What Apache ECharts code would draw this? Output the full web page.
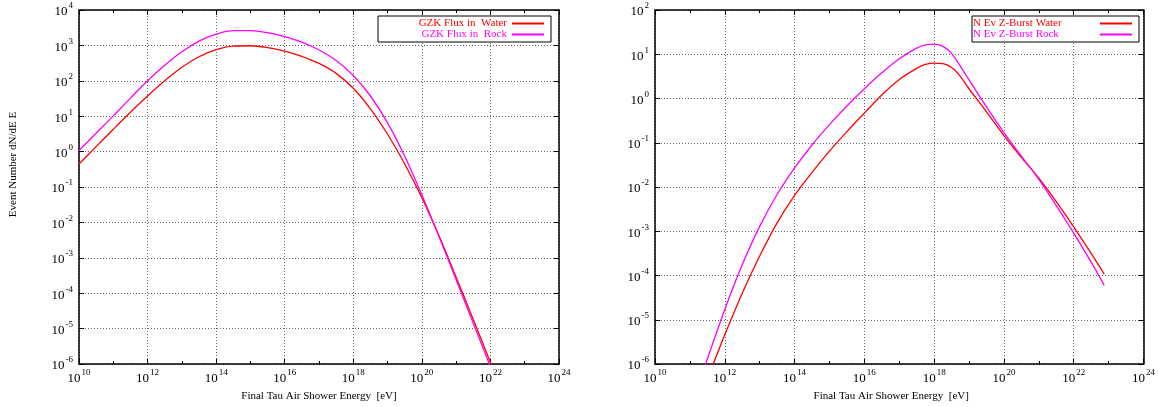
<!DOCTYPE html>
<html><head><meta charset="utf-8">
<script src="https://cdn.jsdelivr.net/npm/echarts@6/dist/echarts.min.js"></script>
<style>html,body{margin:0;padding:0;background:#fff}#c{width:1158px;height:407px}</style>
</head><body><div id="c"></div>
<script>
// ---- data ----
const leftEnergy = [1e10, 3.16e10, 1e11, 3.16e11, 1e12, 3.16e12, 1e13, 3.16e13, 1e14, 3.16e14, 1e15, 3.16e15, 1e16, 3.16e16, 1e17, 3.16e17, 1e18, 3.16e18, 1e19, 3.16e19, 1e20, 3.16e20, 1e21, 3.16e21, 1e22, 3.16e22];
const gzkWater = [0.447, 1.38, 4.27, 12.9, 37.2, 100, 240, 479, 759, 955, 977, 871, 692, 490, 309, 162, 61.7, 16.2, 3.09, 0.447, 0.0501, 4.17e-3, 2.82e-4, 1.82e-5, 1.1e-6, 6.3e-8];
const gzkRock = [1.07, 3.31, 10.2, 32.4, 100, 275, 661, 1318, 2089, 2630, 2630, 2291, 1778, 1230, 741, 372, 141, 37.2, 6.46, 0.741, 0.0603, 3.98e-3, 2.4e-4, 1.41e-5, 8.3e-7, 4.5e-8];

const rightEnergyRock = [2.51e11, 3.16e11, 1e12, 3.16e12, 1e13, 3.16e13, 1e14, 3.16e14, 1e15, 3.16e15, 1e16, 3.16e16, 1e17, 3.16e17, 5.62e17, 1e18, 1.78e18, 3.16e18, 1e19, 3.16e19, 1e20, 3.16e20, 1e21, 3.16e21, 1e22, 3.16e22, 7.5e22];
const zburstRock = [7.6e-7, 1.29e-6, 1.7e-5, 1.74e-4, 1.29e-3, 6.76e-3, 0.0269, 0.0891, 0.257, 0.676, 1.66, 3.8, 7.94, 13.8, 16.2, 17.0, 15.1, 10.5, 2.63, 0.646, 0.17, 0.0501, 0.0148, 3.8e-3, 9.1e-4, 2.0e-4, 6.0e-5];
const rightEnergyWater = [3.98e11, 1e12, 3.16e12, 1e13, 3.16e13, 1e14, 3.16e14, 1e15, 3.16e15, 1e16, 3.16e16, 1e17, 3.16e17, 5.62e17, 1e18, 1.78e18, 3.16e18, 5.62e18, 1e19, 3.16e19, 1e20, 3.16e20, 1e21, 3.16e21, 1e22, 3.16e22, 7.5e22];
const zburstWater = [7.2e-7, 4.57e-6, 3.98e-5, 2.75e-4, 1.55e-3, 6.46e-3, 0.0214, 0.0646, 0.178, 0.468, 1.2, 2.69, 4.79, 5.89, 6.31, 6.17, 5.01, 3.16, 1.66, 0.501, 0.145, 0.0468, 0.0158, 4.68e-3, 1.26e-3, 3.16e-4, 1.07e-4];

const seriesNames = ['GZK Flux in  Water', 'GZK Flux in  Rock', 'N Ev Z-Burst Water', 'N Ev Z-Burst Rock'];
const xTitle = 'Final Tau Air Shower Energy  [eV]';
const yTitle = 'Event Number dN/dE E';

// ---- styling ----
const SERIF = '"Liberation Serif","DejaVu Serif",serif';
const RED = '#ff0000', MAG = '#ff00ff';
function powLabel(v) { const e = Math.round(Math.log10(v)); return '{b|10}{e|' + e + '}'; }
const rich = {
  b: { fontFamily: SERIF, fontSize: 13, color: '#000', verticalAlign: 'bottom', lineHeight: 17 },
  e: { fontFamily: SERIF, fontSize: 9, color: '#000', verticalAlign: 'top', lineHeight: 10, padding: [0, 0, 0, 1] }
};
const gridLine = { show: true, lineStyle: { color: '#666', width: 1, type: [1, 2] } };
const frame = { show: true, lineStyle: { color: '#000', width: 1.5 } };

const grids = [
  { left: 79, top: 10, width: 480, height: 355, ymin: 1e-6, ymax: 1e4 },
  { left: 655, top: 10, width: 490, height: 355, ymin: 1e-6, ymax: 1e2 }
];

const xAxes = [], yAxes = [];
grids.forEach((g, gi) => {
  xAxes.push({ type: 'log', gridIndex: gi, position: 'bottom', min: 1e10, max: 1e24, interval: 2,
    axisLine: frame, axisTick: { show: true, inside: true, length: 5, lineStyle: { color: '#000' } },
    splitLine: gridLine,
    axisLabel: { formatter: powLabel, rich: rich, margin: 4 },
    name: xTitle, nameLocation: 'middle', nameGap: 27,
    nameTextStyle: { fontFamily: SERIF, fontSize: 11, color: '#000', padding: gi === 1 ? [0, 16, 0, 0] : 0 } });
  xAxes.push({ type: 'log', gridIndex: gi, position: 'bottom', min: 1e10, max: 1e24, interval: 1,
    axisLine: { show: false }, axisTick: { show: true, inside: true, length: 3, lineStyle: { color: '#000' } },
    splitLine: { show: false }, axisLabel: { show: false } });
  xAxes.push({ type: 'log', gridIndex: gi, position: 'top', min: 1e10, max: 1e24, interval: 2,
    axisLine: frame, axisTick: { show: true, inside: true, length: 5, lineStyle: { color: '#000' } },
    splitLine: { show: false }, axisLabel: { show: false } });
  xAxes.push({ type: 'log', gridIndex: gi, position: 'top', min: 1e10, max: 1e24, interval: 1,
    axisLine: { show: false }, axisTick: { show: true, inside: true, length: 3, lineStyle: { color: '#000' } },
    splitLine: { show: false }, axisLabel: { show: false } });
  const yl = { type: 'log', gridIndex: gi, position: 'left', min: g.ymin, max: g.ymax, interval: 1,
    axisLine: frame, axisTick: { show: true, inside: true, length: 5, lineStyle: { color: '#000' } },
    splitLine: gridLine,
    axisLabel: { formatter: powLabel, rich: rich, margin: 6 } };
  if (gi === 0) {
    Object.assign(yl, { name: yTitle, nameLocation: 'middle', nameGap: 60, nameRotate: 90,
      nameTextStyle: { fontFamily: SERIF, fontSize: 11, color: '#000', padding: [0, 0, 0, 45] } });
  }
  yAxes.push(yl);
  yAxes.push({ type: 'log', gridIndex: gi, position: 'right', min: g.ymin, max: g.ymax, interval: 1,
    axisLine: frame, axisTick: { show: true, inside: true, length: 5, lineStyle: { color: '#000' } },
    splitLine: { show: false }, axisLabel: { show: false } });
});

function pairs(xs, ys) { return xs.map((x, i) => [x, ys[i]]); }
function line(name, color, xi, yi, data) {
  return { type: 'line', name: name, xAxisIndex: xi, yAxisIndex: yi, data: data,
    showSymbol: false, symbol: 'none', smooth: 0.35, clip: true,
    lineStyle: { color: color, width: 1.3 }, itemStyle: { color: color }, animation: false };
}

const legendBase = {
  orient: 'vertical', align: 'right', icon: 'rect', itemWidth: 32, itemHeight: 2, itemGap: 0,
  borderColor: '#000', borderWidth: 1, top: 16, backgroundColor: '#fff'
};

const option = {
  animation: false,
  backgroundColor: '#fff',
  grid: grids.map(g => ({ left: g.left, top: g.top, width: g.width, height: g.height, containLabel: false })),
  xAxis: xAxes,
  yAxis: yAxes,
  legend: [
    Object.assign({}, legendBase, {
      left: 378, padding: [2, 7, 2, 3],
      data: [{ name: seriesNames[0], textStyle: { color: RED } }, { name: seriesNames[1], textStyle: { color: MAG } }],
      formatter: n => '{t|' + n + '}',
      textStyle: { fontFamily: SERIF, fontSize: 11, rich: { t: { width: 126, align: 'right', fontFamily: SERIF, fontSize: 11, lineHeight: 10.5 } } }
    }),
    Object.assign({}, legendBase, {
      left: 972, padding: [2, 7, 2, 1],
      data: [{ name: seriesNames[2], textStyle: { color: RED } }, { name: seriesNames[3], textStyle: { color: MAG } }],
      formatter: n => '{t|' + n + '}',
      textStyle: { fontFamily: SERIF, fontSize: 11, rich: { t: { width: 122, align: 'left', fontFamily: SERIF, fontSize: 11, lineHeight: 10.5 } } }
    })
  ],
  series: [
    line(seriesNames[0], RED, 0, 0, pairs(leftEnergy, gzkWater)),
    line(seriesNames[1], MAG, 0, 0, pairs(leftEnergy, gzkRock)),
    line(seriesNames[2], RED, 4, 2, pairs(rightEnergyWater, zburstWater)),
    line(seriesNames[3], MAG, 4, 2, pairs(rightEnergyRock, zburstRock))
  ]
};
const chart = echarts.init(document.getElementById('c'), null, { renderer: 'canvas' });
chart.setOption(option);
</script>
</body></html>
